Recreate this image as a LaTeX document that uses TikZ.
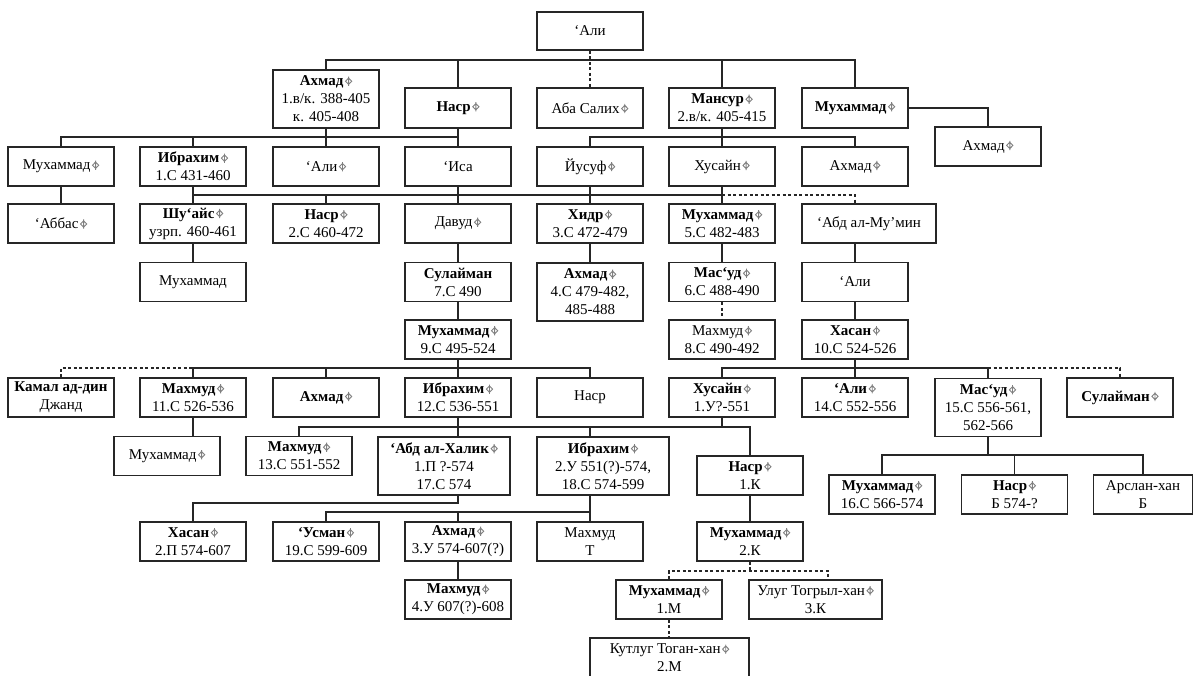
\documentclass[tikz,border=0pt]{standalone}
\usepackage{fontspec}
\setmainfont{Liberation Serif}
\newcommand\cn{\kern1.6pt\tikz[x=1pt,y=1pt,baseline=0pt]{\draw[black!50,line width=0.9pt,solid] (0,1.4)--(3.1,4.6)--(0,7.8)--(-3.1,4.6)--cycle (0,0)--(0,9.2);}}
\tikzset{
  box/.style={draw=black!85, line width=1.5pt, rectangle, inner sep=0pt, align=center,
    minimum width=106pt, minimum height=39pt, font=\fontsize{15}{18}\selectfont},
  wA/.style={minimum width=132pt},
  hA/.style={minimum height=58pt},
  ln/.style={line width=1.4pt, draw=black!85},
  brk/.style={line width=1.4pt, draw=black!85, dash pattern=on 3pt off 2.5pt}
}
\begin{document}
\begin{tikzpicture}[x=1pt,y=-1pt]
\fill[white] (0,0) rectangle (1194,675);
\useasboundingbox (0,0) rectangle (1194,675);
% row 0
\node[box,minimum height=38pt] (ali0) at (590,31) {‘Али};
% row 1
\node[box,hA] (ahm1) at (326,99) {\textbf{Ахмад}\cn\\1.в/к. 388-405\\к. 405-408};
\node[box,minimum height=40pt] (nasr1) at (458,108) {\textbf{Наср}\cn};
\node[box,minimum height=40pt] (aba) at (590,108) {Аба Салих\cn};
\node[box,minimum height=40pt] (mans) at (722,108) {\textbf{Мансур}\cn\\2.в/к. 405-415};
\node[box,minimum height=40pt] (muh1) at (855,108) {\textbf{Мухаммад}\cn};
\node[box] (ahmR) at (988,146.5) {Ахмад\cn};
% row 2
\node[box] (muh2) at (61,166.5) {Мухаммад\cn};
\node[box] (ibr2) at (193,166.5) {\textbf{Ибрахим}\cn\\1.С 431-460};
\node[box] (ali2) at (326,166.5) {‘Али\cn};
\node[box] (isa) at (458,166.5) {‘Иса};
\node[box] (yus) at (590,166.5) {Йусуф\cn};
\node[box] (hus2) at (722,166.5) {Хусайн\cn};
\node[box] (ahm2) at (855,166.5) {Ахмад\cn};
% row 3
\node[box] (abb) at (61,223.5) {‘Аббас\cn};
\node[box] (shu) at (193,223.5) {\textbf{Шу‘айс}\cn\\узрп. 460-461};
\node[box] (nasr3) at (326,223.5) {\textbf{Наср}\cn\\2.С 460-472};
\node[box] (dav) at (458,223.5) {Давуд\cn};
\node[box] (hidr) at (590,223.5) {\textbf{Хидр}\cn\\3.С 472-479};
\node[box] (muh3) at (722,223.5) {\textbf{Мухаммад}\cn\\5.С 482-483};
\node[box,minimum width=134pt] (abdm) at (869,223.5) {‘Абд ал-Му’мин};
% row 4
\node[box] (muh4) at (193,282) {Мухаммад};
\node[box] (sul4) at (458,282) {\textbf{Сулайман}\\7.С 490};
\node[box,hA] (ahm4) at (590,292) {\textbf{Ахмад}\cn\\4.С 479-482,\\485-488};
\node[box] (mas4) at (722,282) {\textbf{Мас‘уд}\cn\\6.С 488-490};
\node[box] (ali4) at (855,282) {‘Али};
% row 5
\node[box] (muh5) at (458,339.5) {\textbf{Мухаммад}\cn\\9.С 495-524};
\node[box] (mah5) at (722,339.5) {Махмуд\cn\\8.С 490-492};
\node[box] (has5) at (855,339.5) {\textbf{Хасан}\cn\\10.С 524-526};
% row 6
\node[box] (kam) at (61,397.5) {\textbf{Камал ад-дин}\\Джанд};
\node[box] (mah6) at (193,397.5) {\textbf{Махмуд}\cn\\11.С 526-536};
\node[box] (ahm6) at (326,397.5) {\textbf{Ахмад}\cn};
\node[box] (ibr6) at (458,397.5) {\textbf{Ибрахим}\cn\\12.С 536-551};
\node[box] (nasr6) at (590,397.5) {Наср};
\node[box] (hus6) at (722,397.5) {\textbf{Хусайн}\cn\\1.У?-551};
\node[box] (ali6) at (855,397.5) {\textbf{‘Али}\cn\\14.С 552-556};
\node[box,hA] (mas6) at (988,407.5) {\textbf{Мас‘уд}\cn\\15.С 556-561,\\562-566};
\node[box] (sul6) at (1120,397.5) {\textbf{Сулайман}\cn};
% row 7
\node[box] (muh7) at (167,456) {Мухаммад\cn};
\node[box] (mah7) at (299,456) {\textbf{Махмуд}\cn\\13.С 551-552};
\node[box,wA,hA] (abdh) at (444,466) {\textbf{‘Абд ал-Халик}\cn\\1.П ?-574\\17.С 574};
\node[box,wA,hA] (ibr7) at (603,466) {\textbf{Ибрахим}\cn\\2.У 551(?)-574,\\18.С 574-599};
\node[box] (nasr7) at (750,475.5) {\textbf{Наср}\cn\\1.К};
\node[box] (muh7b) at (882,494.5) {\textbf{Мухаммад}\cn\\16.С 566-574};
\node[box] (nasr7b) at (1014.5,494.5) {\textbf{Наср}\cn\\Б 574-?};
\node[box,minimum width=99pt] (arsl) at (1143,494.5) {Арслан-хан\\Б};
% row 8
\node[box] (has8) at (193,541.5) {\textbf{Хасан}\cn\\2.П 574-607};
\node[box] (usm) at (326,541.5) {\textbf{‘Усман}\cn\\19.С 599-609};
\node[box] (ahm8) at (458,541.5) {\textbf{Ахмад}\cn\\3.У 574-607(?)};
\node[box] (mah8) at (590,541.5) {Махмуд\\Т};
\node[box] (muh8) at (750,541.5) {\textbf{Мухаммад}\cn\\2.К};
% row 9
\node[box] (mah9) at (458,599.5) {\textbf{Махмуд}\cn\\4.У 607(?)-608};
\node[box] (muh9) at (669,599.5) {\textbf{Мухаммад}\cn\\1.М};
\node[box,minimum width=133pt] (ulug) at (815.5,599.5) {Улуг Тогрыл-хан\cn\\3.К};
% row 10
\node[box,minimum width=159pt,minimum height=40pt] (kut) at (669.5,658) {Кутлуг Тоган-хан\cn\\2.М};
% bus levels
\coordinate (b60) at (0,60);
\coordinate (b137) at (0,137);
\coordinate (b195) at (0,195);
\coordinate (b368) at (0,368);
\coordinate (b427) at (0,427);
\coordinate (b455) at (0,455);
\coordinate (b503) at (0,503);
\coordinate (b512) at (0,512);
\coordinate (b571) at (0,571);
\coordinate (u1) at (828,571);
% connectors
\draw[brk] (ali0.south) -- (aba.north);
\draw[ln] (ahm1.north) -- (ahm1.north|-b60) -- (muh1.north|-b60) -- (muh1.north);
\draw[ln] (nasr1.north) -- (nasr1.north|-b60);
\draw[ln] (mans.north) -- (mans.north|-b60);
\draw[ln] (muh1.east) -| (ahmR.north);
\draw[ln] (muh2.north) -- (muh2.north|-b137) -- (nasr1.south|-b137);
\draw[ln] (nasr1.south) -- (isa.north);
\draw[ln] (ibr2.north) -- (ibr2.north|-b137);
\draw[ln] (ahm1.south) -- (ali2.north);
\draw[ln] (yus.north) -- (yus.north|-b137) -- (ahm2.north|-b137) -- (ahm2.north);
\draw[ln] (mans.south) -- (hus2.north);
\draw[ln] (muh2.south) -- (abb.north);
\draw[ln] (ibr2.south) -- (shu.north);
\draw[ln] (ibr2.south|-b195) -- (muh3.north|-b195);
\draw[ln] (nasr3.north) -- (nasr3.north|-b195);
\draw[brk] (muh3.north|-b195) -- (ahm2.south|-b195) -- (ahm2.south|-abdm.north);
\draw[ln] (isa.south) -- (dav.north);
\draw[ln] (yus.south) -- (hidr.north);
\draw[ln] (hus2.south) -- (muh3.north);
\draw[ln] (shu.south) -- (muh4.north);
\draw[ln] (dav.south) -- (sul4.north);
\draw[ln] (hidr.south) -- (ahm4.north);
\draw[ln] (muh3.south) -- (mas4.north);
\draw[ln] (ali4.north|-abdm.south) -- (ali4.north);
\draw[ln] (sul4.south) -- (muh5.north);
\draw[brk] (mas4.south) -- (mah5.north);
\draw[ln] (ali4.south) -- (has5.north);
\draw[brk] (kam.north) -- (kam.north|-b368) -- (mah6.north|-b368);
\draw[ln] (mah6.north) -- (mah6.north|-b368) -- (nasr6.north|-b368) -- (nasr6.north);
\draw[ln] (ahm6.north) -- (ahm6.north|-b368);
\draw[ln] (muh5.south) -- (ibr6.north);
\draw[ln] (has5.south) -- (ali6.north);
\draw[ln] (hus6.north) -- (hus6.north|-b368) -- (mas6.north|-b368) -- (mas6.north);
\draw[brk] (mas6.north|-b368) -- (sul6.north|-b368) -- (sul6.north);
\draw[ln] (mah6.south) -- (mah6.south|-muh7.north);
\draw[ln] (mah7.north) -- (mah7.north|-b427) -- (nasr7.north|-b427) -- (nasr7.north);
\draw[ln] (ibr6.south) -- (ibr6.south|-abdh.north);
\draw[ln] (nasr6.south|-b427) -- (nasr6.south|-ibr7.north);
\draw[ln] (hus6.south) -- (hus6.south|-b427);
\draw[ln] (mas6.south) -- (mas6.south|-b455);
\draw[ln] (muh7b.north) -- (muh7b.north|-b455) -- (arsl.north|-b455) -- (arsl.north);
\draw[ln] (nasr7b.north) -- (nasr7b.north|-b455);
\draw[ln] (nasr7.south) -- (muh8.north);
\draw[ln] (ibr6.south|-abdh.south) -- (ibr6.south|-b503) -- (has8.north|-b503) -- (has8.north);
\draw[ln] (mah8.north|-ibr7.south) -- (mah8.north);
\draw[ln] (usm.north) -- (usm.north|-b512) -- (mah8.north|-b512);
\draw[ln] (ahm8.north) -- (ahm8.north|-b512);
\draw[ln] (ahm8.south) -- (mah9.north);
\draw[brk] (muh8.south) -- (muh8.south|-b571);
\draw[brk] (muh9.north) -- (muh9.north|-b571) -- (u1) -- (u1|-ulug.north);
\draw[brk] (muh9.south) -- (muh9.south|-kut.north);
\end{tikzpicture}
\end{document}
